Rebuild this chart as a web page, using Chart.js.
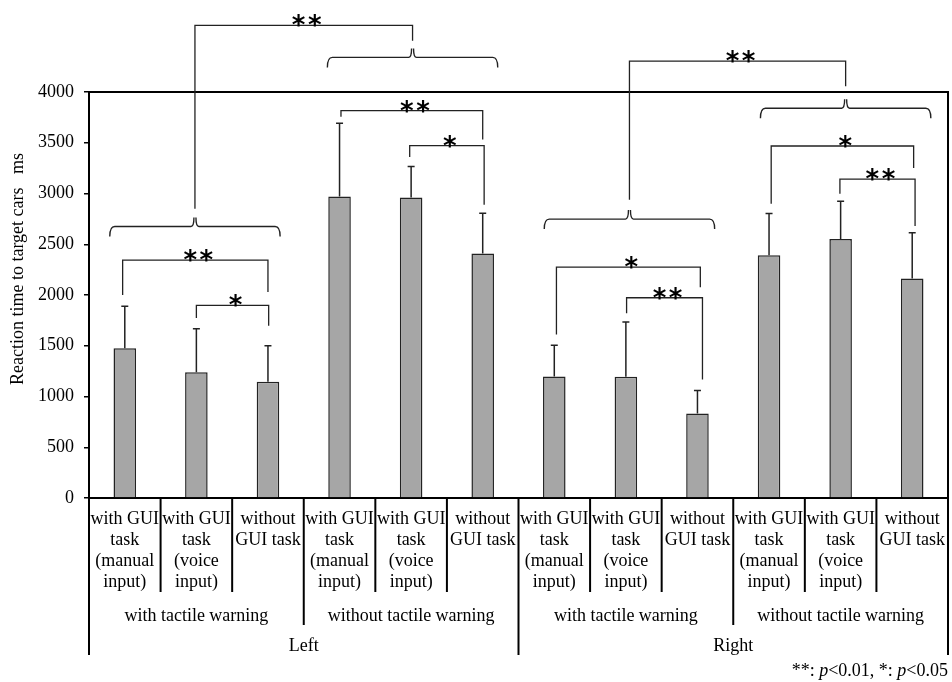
<!DOCTYPE html>
<html>
<head>
<meta charset="utf-8">
<script src="https://cdn.jsdelivr.net/npm/chart.js@4/dist/chart.umd.min.js"></script>
<style>
  html, body { margin: 0; padding: 0; background: #fff; }
  #wrap { width: 952px; height: 682px; }
</style>
</head>
<body>
<div id="wrap"><canvas id="rtChart" width="952" height="682"></canvas></div>
<script>
// Condições (nível 1 do eixo x)
const categories = [
  ['with GUI', 'task', '(manual', 'input)'], ['with GUI', 'task', '(voice', 'input)'], ['without', 'GUI task'],
  ['with GUI', 'task', '(manual', 'input)'], ['with GUI', 'task', '(voice', 'input)'], ['without', 'GUI task'],
  ['with GUI', 'task', '(manual', 'input)'], ['with GUI', 'task', '(voice', 'input)'], ['without', 'GUI task'],
  ['with GUI', 'task', '(manual', 'input)'], ['with GUI', 'task', '(voice', 'input)'], ['without', 'GUI task']
];
// Grupos (níveis 2 e 3)
const tactileGroups = ['with tactile warning', 'without tactile warning', 'with tactile warning', 'without tactile warning'];
const sideGroups = ['Left', 'Right'];

// Tempo médio de reação (ms) e desvio (barra de erro superior)
const meanValues = [1475, 1240, 1145, 2970, 2960, 2410, 1197, 1195, 832, 2392, 2552, 2162];
const sdValues = [415, 428, 356, 721, 306, 395, 309, 540, 228, 411, 372, 451];

const yTicks = [0, 500, 1000, 1500, 2000, 2500, 3000, 3500, 4000];

// Testes de significância: [de, até, linha, perna esq., perna dir., rótulo] (índices e valores em ms)
const pairTests = [
  [-0.03, 2.0, 2343, 2000, 2030, '**'],
  [1.0, 2.01, 1898, 1773, 1697, '*'],
  [3.02, 5.0, 3817, 3755, 3531, '**'],
  [3.98, 5.02, 3472, 3360, 2889, '*'],
  [6.03, 8.04, 2274, 1612, 2076, '*'],
  [7.01, 8.07, 1973, 1819, 1167, '**'],
  [9.03, 11.02, 3468, 2899, 3251, '*'],
  [9.99, 11.04, 3142, 2998, 2681, '**'],
  [0.98, 4.02, 4657, 2849, 4506, '**'],
  [7.05, 10.07, 4304, 2938, 4057, '**']
];
// Chaves sobre cada grupo: [centro, meia largura, valor]
const braces = [
  [0.98, 1.19, 2675],
  [4.02, 1.19, 4341],
  [7.05, 1.19, 2748],
  [10.07, 1.19, 3840]
];

const SERIF = "'Liberation Serif', 'Times New Roman', serif";

const annotatePlugin = {
  id: 'annotate',
  afterDraw(chart) {
    const ctx = chart.ctx;
    const area = chart.chartArea;
    const x = chart.scales.x;
    const y = chart.scales.y;
    const bars = chart.getDatasetMeta(0).data;

    ctx.save();

    // Barras de erro
    ctx.strokeStyle = '#222';
    ctx.lineWidth = 1.5;
    meanValues.forEach((m, i) => {
      const bx = bars[i].x;
      const y0 = y.getPixelForValue(m);
      const y1 = y.getPixelForValue(m + sdValues[i]);
      ctx.beginPath();
      ctx.moveTo(bx, y0);
      ctx.lineTo(bx, y1);
      ctx.moveTo(bx - 3.5, y1);
      ctx.lineTo(bx + 3.5, y1);
      ctx.stroke();
    });

    // Moldura do gráfico (topo e direita)
    ctx.strokeStyle = '#000';
    ctx.lineWidth = 2;
    ctx.beginPath();
    ctx.moveTo(area.left, area.top);
    ctx.lineTo(area.right, area.top);
    ctx.lineTo(area.right, area.bottom + 157);
    ctx.moveTo(area.left, area.bottom);
    ctx.lineTo(area.left, area.bottom + 157);
    ctx.stroke();

    // Separadores do eixo x
    for (let k = 1; k < categories.length; k++) {
      const sx = x.getPixelForValue(k - 0.5);
      let depth = 94;
      if (k % 6 === 0) depth = 157;
      else if (k % 3 === 0) depth = 127;
      ctx.beginPath();
      ctx.moveTo(sx, area.bottom);
      ctx.lineTo(sx, area.bottom + depth);
      ctx.stroke();
    }

    // Rótulos dos grupos
    ctx.fillStyle = '#000';
    ctx.font = '18px ' + SERIF;
    ctx.textAlign = 'center';
    ctx.textBaseline = 'middle';
    tactileGroups.forEach((g, i) => {
      ctx.fillText(g, x.getPixelForValue(i * 3 + 1), area.bottom + 118);
    });
    sideGroups.forEach((g, i) => {
      ctx.fillText(g, x.getPixelForValue(i * 6 + 2.5), area.bottom + 148);
    });

    // Título do eixo y
    ctx.save();
    ctx.translate(18, 269);
    ctx.rotate(-Math.PI / 2);
    ctx.fillText('Reaction time to target cars   ms', 0, 0);
    ctx.restore();

    // Chaves
    ctx.strokeStyle = '#222';
    ctx.lineWidth = 1.4;
    braces.forEach(([c, half, v]) => {
      const xc = x.getPixelForValue(c);
      const x1 = x.getPixelForValue(c - half);
      const x2 = x.getPixelForValue(c + half);
      const yb = y.getPixelForValue(v);
      ctx.beginPath();
      ctx.moveTo(x1, yb + 10);
      ctx.quadraticCurveTo(x1, yb, x1 + 5, yb);
      ctx.lineTo(xc - 4, yb);
      ctx.quadraticCurveTo(xc - 1, yb, xc - 1, yb - 9);
      ctx.moveTo(xc + 1, yb - 9);
      ctx.quadraticCurveTo(xc + 1, yb, xc + 4, yb);
      ctx.lineTo(x2 - 5, yb);
      ctx.quadraticCurveTo(x2, yb, x2, yb + 10);
      ctx.stroke();
    });

    // Colchetes de significância
    ctx.lineWidth = 1.3;
    ctx.font = "bold 26px 'DejaVu Sans', sans-serif";
    ctx.textBaseline = 'alphabetic';
    pairTests.forEach(([a, b, line, legA, legB, label]) => {
      const xa = x.getPixelForValue(a);
      const xb = x.getPixelForValue(b);
      const yl = y.getPixelForValue(line);
      ctx.beginPath();
      ctx.moveTo(xa, y.getPixelForValue(legA));
      ctx.lineTo(xa, yl);
      ctx.lineTo(xb, yl);
      ctx.lineTo(xb, y.getPixelForValue(legB));
      ctx.stroke();
      ctx.fillText(label.split('').join('\u200A'), (xa + xb) / 2 + 3, yl + 9);
    });

    // Nota de significância
    const parts = [
      ['**: ', false], ['p', true], ['<0.01, *: ', false], ['p', true], ['<0.05', false]
    ];
    ctx.textAlign = 'left';
    let total = 0;
    parts.forEach(([t, it]) => {
      ctx.font = (it ? 'italic ' : '') + '18px ' + SERIF;
      total += ctx.measureText(t).width;
    });
    let px = area.right - total;
    parts.forEach(([t, it]) => {
      ctx.font = (it ? 'italic ' : '') + '18px ' + SERIF;
      ctx.fillText(t, px, 676);
      px += ctx.measureText(t).width;
    });

    ctx.restore();
  }
};

const ctx = document.getElementById('rtChart').getContext('2d');
new Chart(ctx, {
  type: 'bar',
  data: {
    labels: categories,
    datasets: [{
      data: meanValues,
      backgroundColor: '#a6a6a6',
      borderColor: '#222',
      borderWidth: 1.5,
      categoryPercentage: 1,
      barPercentage: 0.315
    }]
  },
  options: {
    responsive: false,
    animation: false,
    layout: { padding: { top: 92, right: 4, bottom: 0, left: 0 } },
    plugins: {
      legend: { display: false },
      tooltip: { enabled: false }
    },
    scales: {
      x: {
        afterFit: (scale) => { scale.height = 184; scale.paddingRight = 0; scale.paddingLeft = 0; },
        grid: { display: false, drawTicks: false },
        border: { display: true, color: '#000', width: 2 },
        ticks: {
          autoSkip: false,
          maxRotation: 0,
          minRotation: 0,
          padding: 11,
          color: '#000',
          font: { family: SERIF, size: 18, lineHeight: 1.1667 }
        }
      },
      y: {
        min: 0,
        max: 4000,
        afterFit: (scale) => { scale.width = 89; },
        afterBuildTicks: (scale) => { scale.ticks = yTicks.map(v => ({ value: v })); },
        grid: { drawOnChartArea: false, drawTicks: true, tickLength: 5, color: '#000', lineWidth: 1.5 },
        border: { display: true, color: '#000', width: 2 },
        ticks: {
          padding: 10,
          color: '#000',
          font: { family: SERIF, size: 18 },
          callback: (v) => String(v)
        }
      }
    }
  },
  plugins: [annotatePlugin]
});
</script>
</body>
</html>
